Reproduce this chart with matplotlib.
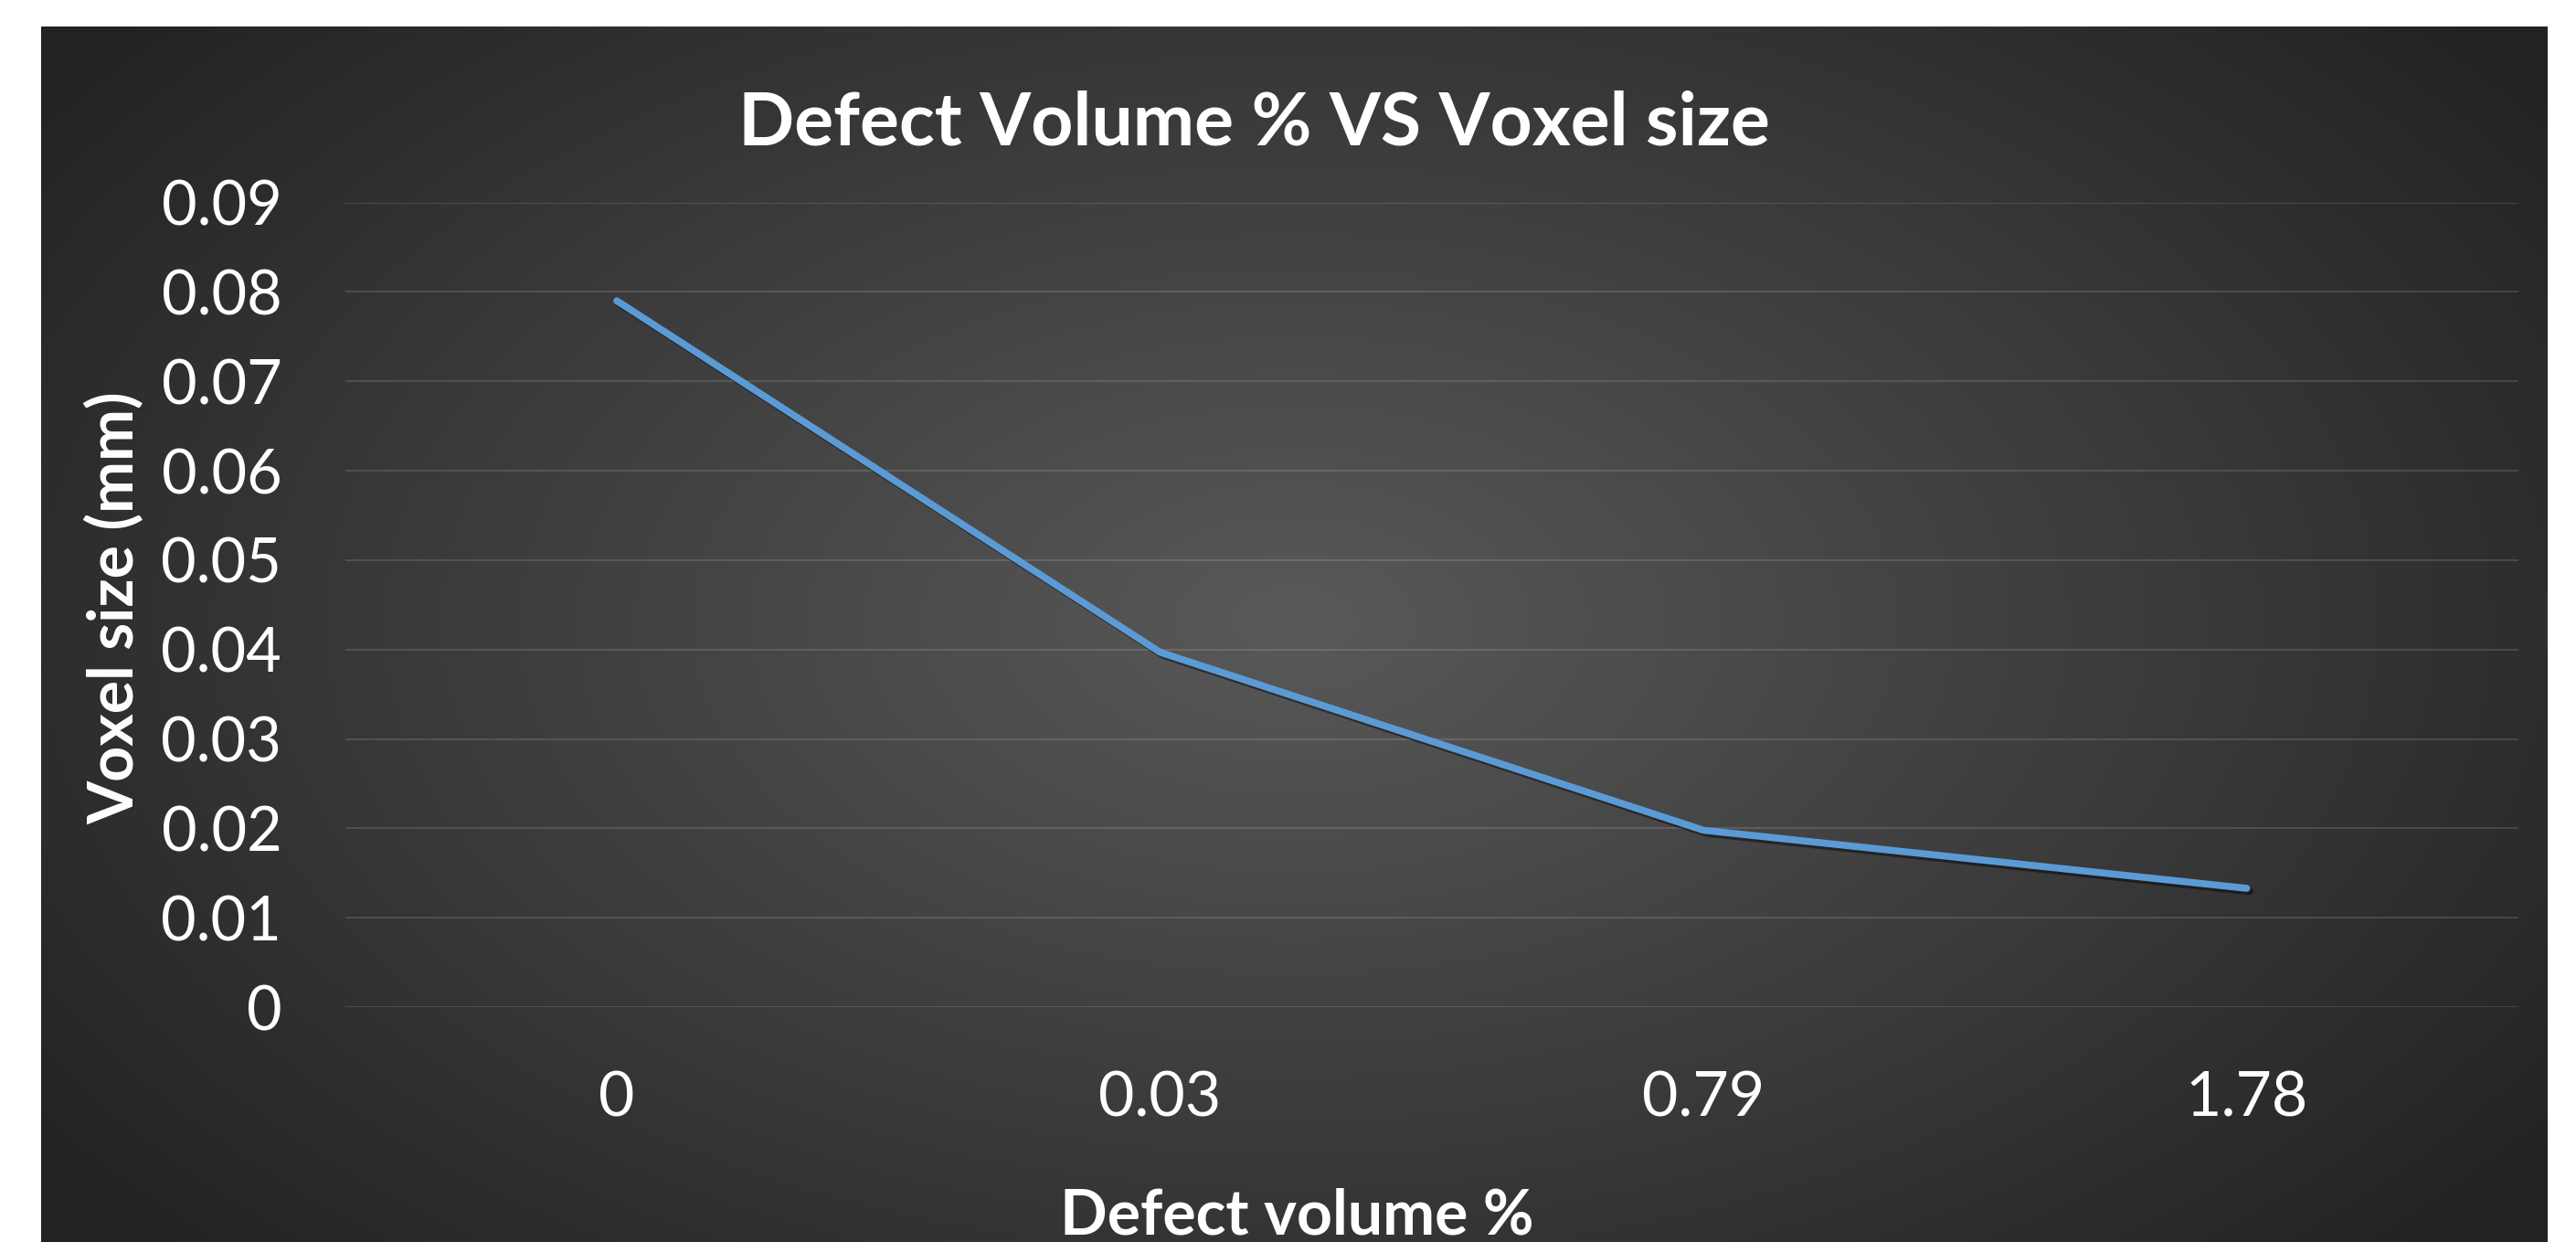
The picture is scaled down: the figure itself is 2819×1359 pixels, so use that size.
import matplotlib.pyplot as plt
import matplotlib.patheffects as pe
import numpy as np

# data
defect_labels = ['0', '0.03', '0.79', '1.78']
voxel_size = [0.079, 0.0397, 0.0198, 0.0133]
y_ticks = [0, 0.01, 0.02, 0.03, 0.04, 0.05, 0.06, 0.07, 0.08, 0.09]
y_tick_labels = ['0', '0.01', '0.02', '0.03', '0.04', '0.05', '0.06', '0.07', '0.08', '0.09']

plt.rcParams['font.family'] = ['Lato', 'DejaVu Sans']


def start():
    fig = plt.figure(figsize=(28.19, 13.59), dpi=100, facecolor='white')

    # dark panel with a radial gradient
    bg = fig.add_axes([0.016, 0.0, 0.9727, 0.9787])
    ny, nx = 400, 800
    yy, xx = np.mgrid[0:1:ny * 1j, 0:1:nx * 1j]
    dist = np.sqrt(((xx - 0.5) / 0.62) ** 2 + ((yy - 0.49) / 0.75) ** 2)
    dist = np.clip(dist, 0, 1)
    val = 0.35 + (0.135 - 0.35) * dist
    img = np.dstack([val, val, val])
    bg.imshow(img, aspect='auto', extent=[0, 1, 0, 1], interpolation='bilinear')
    bg.axis('off')

    ax = fig.add_axes([0.134, 0.189, 0.8436, 0.648])
    ax.patch.set_alpha(0)
    x = np.arange(len(defect_labels))
    ax.plot(x, voxel_size, color='#5B9BD5', lw=5.5, solid_capstyle='round',
            path_effects=[pe.SimpleLineShadow(offset=(2.5, -2.5), alpha=0.45, shadow_color='black'),
                          pe.Normal()])

    ax.set_xlim(-0.5, len(defect_labels) - 0.5)
    ax.set_ylim(0, 0.09)
    ax.set_xticks(x)
    ax.set_xticklabels(defect_labels)
    ax.set_yticks(y_ticks)
    ax.set_yticklabels(y_tick_labels)
    ax.tick_params(axis='x', length=0, pad=50, labelsize=49, labelcolor='white')
    ax.tick_params(axis='y', length=0, pad=50, labelsize=48, labelcolor='white')
    ax.grid(True, axis='y', color='white', alpha=0.13, lw=1.5)
    ax.set_axisbelow(True)
    for s in ax.spines.values():
        s.set_visible(False)

    ax.set_xlabel('Defect volume %', fontsize=49, fontweight='bold', color='white', va='center')
    ax.xaxis.set_label_coords(0.438, -0.26)
    ax.set_ylabel('Voxel size (mm)', fontsize=49, fontweight='bold', color='white', va='center')
    ax.yaxis.set_label_coords(-0.106, 0.496)

    fig.text(0.487, 0.900, 'Defect Volume % VS Voxel size', fontsize=58, fontweight='bold',
             color='white', ha='center', va='center')

    fig.savefig('out.png', dpi=100, facecolor='white')


if __name__ == "__main__":
    start()
